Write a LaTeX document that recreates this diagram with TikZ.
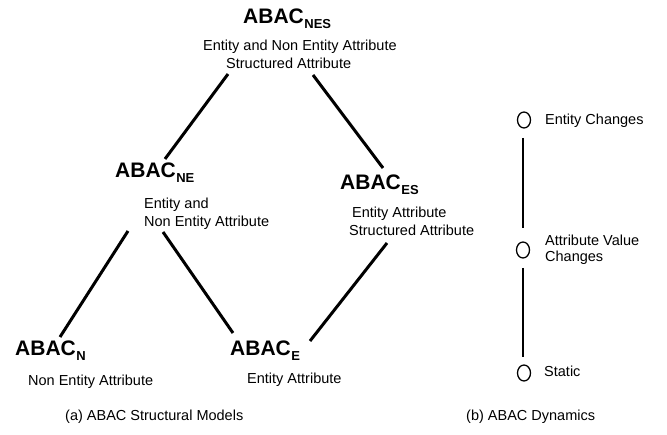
\documentclass[tikz,border=0pt]{standalone}
\usepackage{fontspec}
\setmainfont{Liberation Sans}
\usetikzlibrary{shapes.geometric}
\begin{document}
\begin{tikzpicture}[x=1pt,y=1pt,
  title/.style={anchor=base west,inner sep=0pt,font=\fontsize{21}{21}\selectfont\bfseries},
  desc/.style={anchor=base west,inner sep=0pt,font=\fontsize{14.5}{17}\selectfont},
  edge/.style={line width=3pt},
  thin/.style={line width=1.3pt},
  dot/.style={draw,line width=1.3pt,ellipse,minimum width=13pt,minimum height=16pt,inner sep=0pt}]
\useasboundingbox (0,0) rectangle (667,-435);
\newcommand{\sbs}[1]{\kern0.5pt\raisebox{-5pt}{\fontsize{13}{13}\selectfont\bfseries #1}}
% models
\node[title] (nes) at (243,-24) {ABAC\sbs{NES}};
\node[desc] (nesd1) at (203,-51) {Entity and Non Entity Attribute};
\node[desc] (nesd2) at (226,-69) {Structured Attribute};
\node[title] (ne) at (115,-178) {ABAC\sbs{NE}};
\node[desc] (ned1) at (144,-209) {Entity and};
\node[desc] (ned2) at (144,-227) {Non Entity Attribute};
\node[title] (es) at (340,-190) {ABAC\sbs{ES}};
\node[desc] (esd1) at (352,-218) {Entity Attribute};
\node[desc] (esd2) at (349,-236) {Structured Attribute};
\node[title] (n) at (15,-356) {ABAC\sbs{N}};
\node[desc] (nd) at (28,-386) {Non Entity Attribute};
\node[title] (e) at (230,-356) {ABAC\sbs{E}};
\node[desc] (ed) at (247,-384) {Entity Attribute};
% connector end points
\coordinate (a1) at (228,-74); \coordinate (a2) at (165,-159);
\coordinate (b1) at (313,-75); \coordinate (b2) at (383,-168);
\coordinate (c1) at (128,-231); \coordinate (c2) at (60,-337);
\coordinate (d1) at (163,-232); \coordinate (d2) at (233,-333);
\coordinate (f1) at (387,-243); \coordinate (f2) at (310,-341);
\draw[edge] (a1) -- (a2);
\draw[edge] (b1) -- (b2);
\draw[edge] (c1) -- (c2);
\draw[edge] (d1) -- (d2);
\draw[edge] (f1) -- (f2);
% dynamics
\node[dot] (k1) at (524,-120) {};
\node[dot] (k2) at (523,-250) {};
\node[dot] (k3) at (524,-373) {};
\node[desc] (t1) at (545,-125) {Entity Changes};
\node[desc] (t2a) at (545,-246) {Attribute Value};
\node[desc] (t2b) at (545,-262) {Changes};
\node[desc] (t3) at (544,-377) {Static};
\coordinate (g1) at (523,-138); \coordinate (g2) at (523,-228);
\coordinate (h1) at (523,-268); \coordinate (h2) at (523,-357);
\draw[thin] (g1) -- (g2);
\draw[thin] (h1) -- (h2);
% captions
\node[desc] (capa) at (65,-421) {(a) ABAC Structural Models};
\node[desc] (capb) at (466,-421) {(b) ABAC Dynamics};
\end{tikzpicture}
\end{document}
